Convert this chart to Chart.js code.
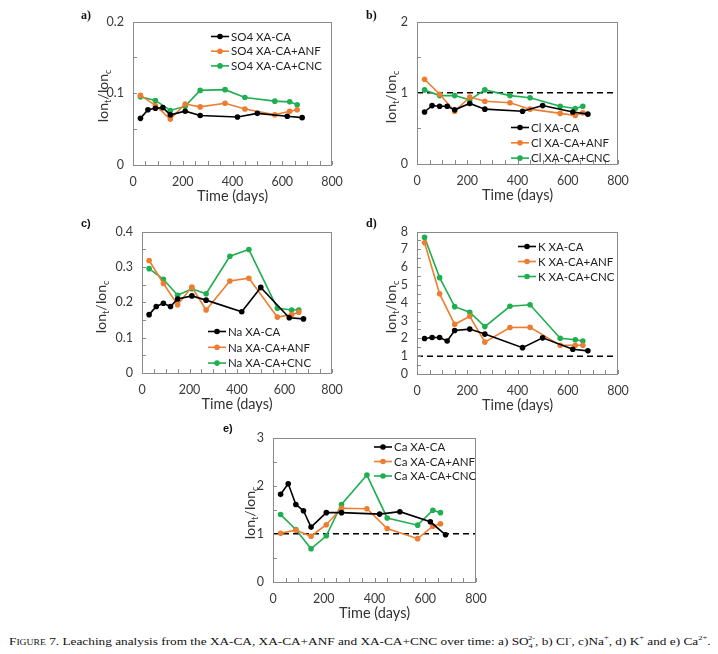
<!DOCTYPE html>
<html>
<head>
<meta charset="utf-8">
<script src="https://cdn.jsdelivr.net/npm/chart.js@4.4.1/dist/chart.umd.min.js"></script>
<style>
  body { margin: 0; background: #fff; width: 718px; height: 654px; position: relative; overflow: hidden; }
  canvas { position: absolute; }
  .tag { position: absolute; font-weight: bold; font-size: 12px; line-height: 14px; color: #111; }
  .serif { font-family: 'Liberation Serif', serif; }
  .sans { font-family: 'Liberation Sans', sans-serif; font-size: 11px; }
  #caption { position: absolute; left: 9px; top: 634px; font-family: 'Liberation Serif', serif; font-size: 11px;
             white-space: nowrap; transform-origin: 0 0; color: #111; }
  #caption sub, #caption sup { font-size: 7px; }
</style>
</head>
<body>
<canvas id="chart-a"></canvas>
<canvas id="chart-b"></canvas>
<canvas id="chart-c"></canvas>
<canvas id="chart-d"></canvas>
<canvas id="chart-e"></canvas>
<div class="tag serif" style="left:81px;top:8px">a)</div>
<div class="tag serif" style="left:366px;top:8px">b)</div>
<div class="tag sans" style="left:81px;top:216px">c)</div>
<div class="tag serif" style="left:366px;top:216px">d)</div>
<div class="tag sans" style="left:223px;top:421px">e)</div>
<div id="caption"><span style="font-variant:small-caps">Figure</span> 7. Leaching analysis from the XA-CA, XA-CA+ANF and XA-CA+CNC over time: a) SO<sub>4</sub><sup style="margin-left:-4px">2-</sup>, b) Cl<sup>-</sup>, c)Na<sup>+</sup>, d) K<sup>+</sup> and e) Ca<sup>2+</sup>.</div>
<script>
// sampling days
const daysCA = [30, 60, 90, 120, 150, 210, 270, 420, 500, 620, 680];
const daysMix = [30, 90, 150, 210, 270, 370, 450, 570, 630, 660];
const refX = [0, 800];
const refY = [1, 1];

// Ion_t / Ion_c ratios
const so4CA = [0.065, 0.077, 0.079, 0.080, 0.070, 0.075, 0.069, 0.067, 0.072, 0.068, 0.066];
const so4ANF = [0.097, 0.083, 0.064, 0.085, 0.081, 0.086, 0.078, 0.070, 0.075, 0.077];
const so4CNC = [0.095, 0.090, 0.076, 0.082, 0.104, 0.105, 0.094, 0.089, 0.088, 0.084];

const clCA = [0.73, 0.82, 0.81, 0.81, 0.76, 0.85, 0.77, 0.74, 0.82, 0.73, 0.70];
const clANF = [1.19, 0.98, 0.74, 0.94, 0.88, 0.86, 0.77, 0.71, 0.68, 0.72];
const clCNC = [1.04, 0.96, 0.96, 0.90, 1.04, 0.96, 0.93, 0.81, 0.78, 0.81];

const naCA = [0.165, 0.188, 0.197, 0.188, 0.209, 0.218, 0.206, 0.173, 0.242, 0.156, 0.153];
const naANF = [0.318, 0.253, 0.193, 0.243, 0.178, 0.260, 0.268, 0.158, 0.165, 0.172];
const naCNC = [0.295, 0.265, 0.220, 0.238, 0.224, 0.330, 0.349, 0.183, 0.178, 0.178];

const kCA = [1.99, 2.05, 2.05, 1.85, 2.44, 2.52, 2.24, 1.48, 2.03, 1.39, 1.30];
const kANF = [7.37, 4.50, 2.79, 3.24, 1.79, 2.61, 2.62, 1.61, 1.61, 1.61];
const kCNC = [7.67, 5.41, 3.78, 3.47, 2.66, 3.80, 3.89, 2.01, 1.92, 1.85];

const caCA = [1.82, 2.04, 1.61, 1.48, 1.14, 1.44, 1.44, 1.41, 1.46, 1.25, 0.98];
const caANF = [1.01, 1.08, 0.95, 1.19, 1.53, 1.52, 1.11, 0.90, 1.16, 1.21];
const caCNC = [1.40, 1.09, 0.69, 0.96, 1.61, 2.22, 1.33, 1.18, 1.49, 1.44];

const seriesNames = ['XA-CA', 'XA-CA+ANF', 'XA-CA+CNC'];
const seriesColors = ['#000000', '#ED7D31', '#1FAE50'];

// layout of each panel: plot box on the page, legend and y title spots
const panels = [
    { id: 'a', ion: 'SO4', values: [so4CA, so4ANF, so4CNC], yMax: 0.2, yMajor: 0.1, ref: false,
      box: [133, 17, 332, 165], legend: [78, 15, 14.7], yTitle: [103, 96] },
    { id: 'b', ion: 'Cl', values: [clCA, clANF, clCNC], yMax: 2, yMajor: 1, ref: true,
      box: [417, 17, 618, 164], legend: [94, 106, 15.3], yTitle: [391, 97] },
    { id: 'c', ion: 'Na', values: [naCA, naANF, naCNC], yMax: 0.4, yMajor: 0.1, ref: false,
      box: [142, 227, 332, 373], legend: [66, 100, 15.8], yTitle: [101, 307] },
    { id: 'd', ion: 'K', values: [kCA, kANF, kCNC], yMax: 8, yMajor: 1, ref: true,
      box: [417, 227, 618, 374], legend: [101, 15, 15], yTitle: [391, 307] },
    { id: 'e', ion: 'Ca', values: [caCA, caANF, caCNC], yMax: 3, yMajor: 1, ref: true,
      box: [273, 433, 476, 582], legend: [101, 9.5, 14.5], yTitle: [250, 513] }
];

const PAD = { left: 60, top: 12, right: 30, bottom: 45 };
const FONT = 'Lato, "Open Sans", sans-serif';

function toPoints(xs, ys) {
    return ys.map((y, i) => ({ x: xs[i], y: y }));
}

// frame, inner ticks, axis titles and the legend inside the plot
const decorPlugin = {
    id: 'decor',
    afterDraw(chart) {
        const p = chart.options.plugins.decor;
        const ctx = chart.ctx;
        const a = chart.chartArea;
        const xs = chart.scales.x, ys = chart.scales.y;
        ctx.save();
        ctx.strokeStyle = '#8a8a8a';
        ctx.lineWidth = 1;
        ctx.strokeRect(Math.round(a.left) + 0.5, Math.round(a.top) + 0.5,
            Math.round(a.right - a.left) - 1, Math.round(a.bottom - a.top) - 1);
        ctx.beginPath();
        xs.ticks.forEach(t => {
            const px = Math.round(xs.getPixelForValue(t.value)) + 0.5;
            ctx.moveTo(px, a.bottom);
            ctx.lineTo(px, a.bottom - 4);
        });
        ys.ticks.forEach(t => {
            const py = Math.round(ys.getPixelForValue(t.value)) + 0.5;
            ctx.moveTo(a.left, py);
            ctx.lineTo(a.left + 4, py);
        });
        ctx.stroke();

        // x title
        ctx.fillStyle = '#333';
        ctx.font = '14.5px ' + FONT;
        ctx.textAlign = 'center';
        ctx.textBaseline = 'middle';
        ctx.fillText('Time (days)', (a.left + a.right) / 2, a.bottom + 31);

        // y title Ion_t/Ion_c
        const tx = p.yTitle[0] - p.canvasLeft, ty = p.yTitle[1] - p.canvasTop;
        const parts = [['Ion', 14, 0], ['t', 9, 3], ['/Ion', 14, 0], ['c', 9, 3]];
        let total = 0;
        parts.forEach(q => { ctx.font = q[1] + 'px ' + FONT; total += ctx.measureText(q[0]).width; });
        ctx.translate(tx, ty);
        ctx.rotate(-Math.PI / 2);
        ctx.textAlign = 'left';
        ctx.textBaseline = 'alphabetic';
        let cx = -total / 2;
        parts.forEach(q => {
            ctx.font = q[1] + 'px ' + FONT;
            ctx.fillText(q[0], cx, 5 + q[2]);
            cx += ctx.measureText(q[0]).width;
        });
        ctx.setTransform(1, 0, 0, 1, 0, 0);

        // legend
        ctx.font = '11.5px ' + FONT;
        ctx.textBaseline = 'middle';
        ctx.textAlign = 'left';
        p.labels.forEach((lab, i) => {
            const lx = a.left + p.legend[0];
            const ly = a.top + p.legend[1] + i * p.legend[2];
            ctx.strokeStyle = seriesColors[i];
            ctx.fillStyle = seriesColors[i];
            ctx.lineWidth = 1.6;
            ctx.beginPath();
            ctx.moveTo(lx, ly);
            ctx.lineTo(lx + 18, ly);
            ctx.stroke();
            ctx.beginPath();
            ctx.arc(lx + 9, ly, 2.8, 0, Math.PI * 2);
            ctx.fill();
            ctx.fillStyle = '#222';
            ctx.fillText(lab, lx + 20, ly + 0.5);
        });
        ctx.restore();
    }
};

function fmt(v, major) {
    const r = Math.round(v / major * 2);
    if (r % 2 !== 0) return '';
    return String(+v.toFixed(2));
}

panels.forEach(panel => {
    const [L, T, R, B] = panel.box;
    const canvas = document.getElementById('chart-' + panel.id);
    const cl = L - PAD.left, ct = T - PAD.top;
    canvas.width = (R - L) + PAD.left + PAD.right;
    canvas.height = (B - T) + PAD.top + PAD.bottom;
    canvas.style.left = cl + 'px';
    canvas.style.top = ct + 'px';

    const datasets = panel.values.map((vals, i) => ({
        label: panel.ion + ' ' + seriesNames[i],
        data: toPoints(i === 0 ? daysCA : daysMix, vals),
        borderColor: seriesColors[i],
        backgroundColor: seriesColors[i],
        pointBackgroundColor: seriesColors[i],
        pointBorderWidth: 0,
        pointRadius: 2.8,
        borderWidth: 1.6,
        tension: 0
    }));
    if (panel.ref) {
        datasets.push({
            label: 'ref',
            data: toPoints(refX, refY),
            borderColor: '#000',
            borderWidth: 1.5,
            borderDash: [6, 4],
            pointRadius: 0
        });
    }

    new Chart(canvas.getContext('2d'), {
        type: 'line',
        data: { datasets: datasets },
        plugins: [decorPlugin],
        options: {
            responsive: false,
            animation: false,
            layout: { padding: { left: 0, top: PAD.top, right: PAD.right, bottom: 0 } },
            plugins: {
                legend: { display: false },
                tooltip: { enabled: false },
                decor: {
                    legend: panel.legend,
                    yTitle: panel.yTitle,
                    canvasLeft: cl,
                    canvasTop: ct,
                    labels: seriesNames.map(n => panel.ion + ' ' + n)
                }
            },
            scales: {
                x: {
                    type: 'linear', min: 0, max: 800,
                    grid: { display: false, drawTicks: false },
                    border: { display: false },
                    ticks: {
                        stepSize: 50, autoSkip: false, maxRotation: 0, padding: 9,
                        color: '#3a3a3a', font: { family: FONT, size: 12.5 },
                        callback: v => (v % 200 === 0 ? String(v) : '')
                    },
                    afterFit: s => { s.height = PAD.bottom; }
                },
                y: {
                    type: 'linear', min: 0, max: panel.yMax,
                    grid: { display: false, drawTicks: false },
                    border: { display: false },
                    ticks: {
                        stepSize: panel.yMajor / 2, autoSkip: false, padding: 9,
                        color: '#3a3a3a', font: { family: FONT, size: 12.5 },
                        callback: v => fmt(v, panel.yMajor)
                    },
                    afterFit: s => { s.width = PAD.left; }
                }
            }
        }
    });
});

// stretch the caption to the width it has in the figure
const cap = document.getElementById('caption');
cap.style.transform = 'scaleX(' + (701 / cap.offsetWidth) + ')';
</script>
</body>
</html>
